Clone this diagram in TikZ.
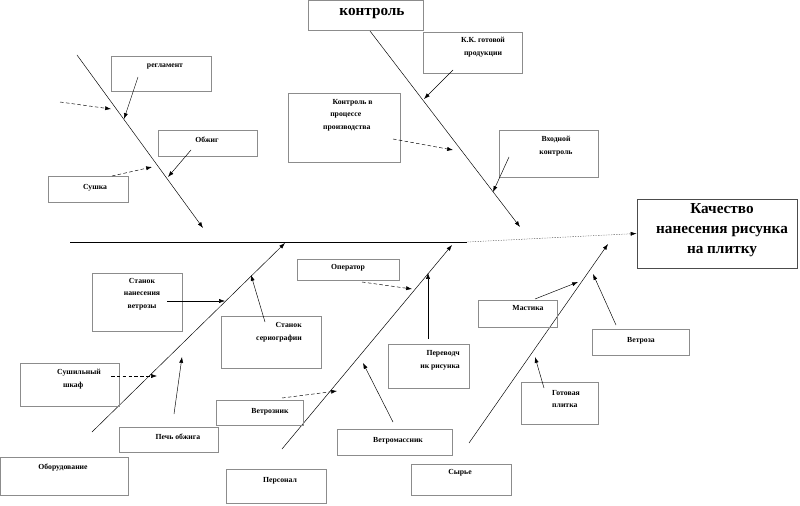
\documentclass[tikz,border=0pt]{standalone}
\usepackage{fontspec}
\setmainfont{Liberation Serif}
\usetikzlibrary{arrows.meta,fit}

\begin{document}
\begin{tikzpicture}[x=0.03cm,y=-0.03cm,
    box/.style={draw=black!45,line width=0.4pt,inner sep=0pt},
    txt/.style={font=\fontsize{6.6}{10.8}\selectfont\bfseries,inner sep=0pt,align=center},
    arr/.style={-{Latex[length=5pt,width=3.5pt]},line width=0.4pt},
    darr/.style={arr,densely dashed}]
	\useasboundingbox (0,0) rectangle (800,506);
	% effect and spine
	\node[draw=black!70,line width=0.8pt,inner sep=0pt,fit={(637,199) (797,268)}] (effect) {};
	\node[txt,font=\fontsize{13}{17}\selectfont\bfseries] (effect-t) at (722,230) {Качество\\нанесения рисунка\\на плитку};
	\coordinate (sp0) at (70,242);
	\coordinate (sp1) at (467,242);
	\draw[line width=0.5pt] (sp0) -- (sp1);
	\draw[arr,densely dotted] (sp1) -- (effect.west);
	% bone: regulations (top left)
	\coordinate (b1s) at (77,55);
	\coordinate (b1e) at (203,228);
	\draw[arr] (b1s) -- (b1e);
	\node[box,fit={(111,56) (211,91)}] (regl) {};
	\node[txt] (regl-t) at (165,67) {регламент};
	\node[box,fit={(158,130) (257,156)}] (obzh) {};
	\node[txt] (obzh-t) at (207,140) {Обжиг};
	\node[box,fit={(48,176) (128,202)}] (sush) {};
	\node[txt] (sush-t) at (95,188) {Сушка};
	\coordinate (regl-a) at (138,77);   \coordinate (b1a) at (124,119);
	\coordinate (left-a) at (60,102);   \coordinate (b1b) at (111,109);
	\coordinate (obzh-a) at (191,150);  \coordinate (b1c) at (168,177);
	\coordinate (sush-a) at (112,176);  \coordinate (b1d) at (152,167);
	\draw[arr] (regl-a) -- (b1a);
	\draw[darr] (left-a) -- (b1b);
	\draw[arr] (obzh-a) -- (b1c);
	\draw[darr] (sush-a) -- (b1d);
	% bone: control (top right)
	\node[box,fit={(308,0) (423,30)}] (ctl) {};
	\node[txt,font=\fontsize{13}{15}\selectfont\bfseries] (ctl-t) at (372,14) {контроль};
	\coordinate (b2s) at (370,31);
	\coordinate (b2e) at (520,227);
	\draw[arr] (b2s) -- (b2e);
	\node[box,fit={(423,32) (522,73)}] (kk) {};
	\node[txt] (kk-t) at (483,47) {К.К. готовой\\продукции};
	\node[box,fit={(288,93) (400,162)}] (proc) {};
	\node[txt,align=left,anchor=west] (proc-t) at (323,115) {\hspace{8pt}Контроль в\\\hspace{6pt}процессе\\производства};
	\node[box,fit={(499,130) (598,177)}] (vhod) {};
	\node[txt] (vhod-t) at (556,146) {Входной\\контроль};
	\coordinate (kk-a) at (453,70);    \coordinate (b2a) at (424,99);
	\coordinate (proc-a) at (393,139); \coordinate (b2b) at (453,150);
	\coordinate (vhod-a) at (509,157); \coordinate (b2c) at (493,192);
	\draw[arr] (kk-a) -- (b2a);
	\draw[darr] (proc-a) -- (b2b);
	\draw[arr] (vhod-a) -- (b2c);
	% bone: equipment (bottom left)
	\node[box,fit={(0,457) (128,495)}] (obor) {};
	\node[txt] (obor-t) at (63,468) {Оборудование};
	\coordinate (b3s) at (92,432);
	\coordinate (b3e) at (285,243);
	\draw[arr] (b3s) -- (b3e);
	\node[box,fit={(92,273) (182,331)}] (stnan) {};
	\node[txt] (stnan-t) at (142,294) {Станок\\нанесения\\ветрозы};
	\node[box,fit={(221,316) (321,368)}] (stser) {};
	\node[txt,align=right,anchor=east] (stser-t) at (302,332) {Станок\\сериографии};
	\node[box,fit={(20,363) (119,406)}] (shkaf) {};
	\node[txt,align=left,anchor=west] (shkaf-t) at (57,379) {Сушильный\\\hspace{5pt}шкаф};
	\node[box,fit={(119,427) (218,452)}] (pech) {};
	\node[txt] (pech-t) at (178,437) {Печь обжига};
	\coordinate (stnan-a) at (167,301); \coordinate (b3a) at (225,301);
	\coordinate (stser-a) at (265,322); \coordinate (b3b) at (251,275);
	\coordinate (shkaf-a) at (111,376); \coordinate (b3c) at (157,376);
	\coordinate (pech-a) at (174,414);  \coordinate (b3d) at (182,357);
	\draw[arr] (stnan-a) -- (b3a);
	\draw[arr] (stser-a) -- (b3b);
	\draw[darr] (shkaf-a) -- (b3c);
	\draw[arr] (pech-a) -- (b3d);
	% bone: staff (bottom middle)
	\node[box,fit={(226,469) (326,503)}] (pers) {};
	\node[txt] (pers-t) at (280,481) {Персонал};
	\coordinate (b4s) at (282,449);
	\coordinate (b4e) at (452,245);
	\draw[arr] (b4s) -- (b4e);
	\node[box,fit={(297,259) (399,280)}] (oper) {};
	\node[txt] (oper-t) at (348,268) {Оператор};
	\node[box,fit={(388,344) (469,388)}] (perev) {};
	\node[txt,align=right,anchor=east] (perev-t) at (460,360) {Переводч\\ик рисунка};
	\node[box,fit={(216,400) (303,425)}] (vetz) {};
	\node[txt] (vetz-t) at (270,412) {Ветрозник};
	\node[box,fit={(337,429) (452,455)}] (vetm) {};
	\node[txt] (vetm-t) at (398,441) {Ветромассник};
	\coordinate (oper-a) at (362,282);  \coordinate (b4a) at (412,289);
	\coordinate (perev-a) at (428,339); \coordinate (b4b) at (428,273);
	\coordinate (vetz-a) at (282,398);  \coordinate (b4c) at (337,391);
	\coordinate (vetm-a) at (393,422);  \coordinate (b4d) at (363,363);
	\draw[darr] (oper-a) -- (b4a);
	\draw[arr] (perev-a) -- (b4b);
	\draw[darr] (vetz-a) -- (b4c);
	\draw[arr] (vetm-a) -- (b4d);
	% bone: raw materials (bottom right)
	\node[box,fit={(411,464) (511,495)}] (syr) {};
	\node[txt] (syr-t) at (460,473) {Сырье};
	\coordinate (b5s) at (469,443);
	\coordinate (b5e) at (608,244);
	\draw[arr] (b5s) -- (b5e);
	\node[box,fit={(478,300) (557,327)}] (mast) {};
	\node[txt] (mast-t) at (528,308) {Мастика};
	\node[box,fit={(592,329) (689,355)}] (vetr) {};
	\node[txt] (vetr-t) at (641,341) {Ветроза};
	\node[box,fit={(521,382) (598,424)}] (plit) {};
	\node[txt,align=left,anchor=west] (plit-t) at (552,399) {Готовая\\плитка};
	\coordinate (mast-a) at (535,299); \coordinate (b5a) at (578,282);
	\coordinate (vetr-a) at (616,325); \coordinate (b5b) at (593,274);
	\coordinate (plit-a) at (544,388); \coordinate (b5c) at (535,357);
	\draw[arr] (mast-a) -- (b5a);
	\draw[arr] (vetr-a) -- (b5b);
	\draw[arr] (plit-a) -- (b5c);
\end{tikzpicture}
\end{document}
